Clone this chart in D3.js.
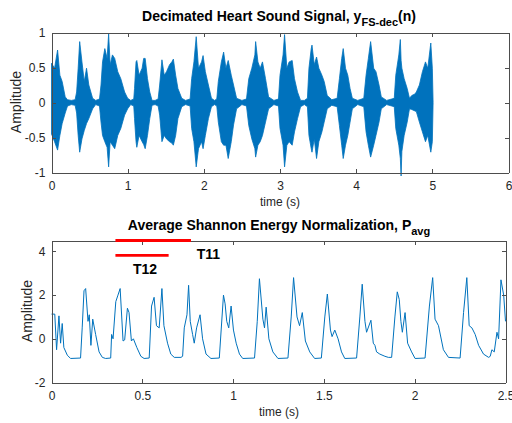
<!DOCTYPE html>
<html>
<head>
<meta charset="utf-8">
<title>Heart Sound</title>
<style>
  body { margin: 0; background: #fff; }
  svg { display: block; font-family: "Liberation Sans", Arial, sans-serif; }
  .tick text { font-size: 12px; fill: #262626; }
  .lbl { font-size: 14px; fill: #262626; }
  .ttl { font-size: 14px; font-weight: bold; fill: #000; }
  .mark { font-size: 14px; font-weight: bold; fill: #000; }
</style>
</head>
<body>
<svg width="512" height="423"></svg>
<script src="https://d3js.org/d3.v7.min.js"></script>
<script>
// top panel: envelope of the decimated heart sound (upper / lower amplitude)
var sigT  = [0.00,0.04,0.08,0.11,0.14,0.18,0.21,0.26,0.31,
             0.33,0.35,0.37,0.40,0.43,0.46,0.49,0.54,0.58,
             0.63,0.65,0.67,0.70,0.73,0.75,0.77,0.80,0.83,0.87,0.91,0.96,1.00,1.04,
             1.08,1.09,1.11,1.12,1.15,1.19,1.21,1.23,1.26,1.29,1.32,1.36,
             1.40,1.42,1.45,1.48,1.51,1.55,1.58,1.60,1.63,1.66,1.71,1.76,
             1.82,1.84,1.87,1.90,1.93,1.97,1.99,2.02,2.06,2.10,2.14,
             2.17,2.19,2.23,2.26,2.29,2.32,2.36,2.39,2.43,2.50,
             2.56,2.59,2.63,2.67,2.68,2.71,2.74,2.77,2.81,2.85,2.92,
             2.98,3.00,3.04,3.06,3.09,3.12,3.16,3.19,3.23,3.27,3.32,
             3.36,3.38,3.41,3.42,3.45,3.48,3.51,3.55,3.58,3.62,3.68,
             3.75,3.78,3.81,3.83,3.86,3.89,3.92,3.95,4.02,
             4.10,4.13,4.16,4.19,4.23,4.26,4.30,4.33,4.40,
             4.50,4.52,4.56,4.58,4.59,4.60,4.63,4.67,4.70,4.73,
             4.77,4.79,4.83,4.87,4.91,4.94,4.98,5.00,5.01];
var sigHi = [0.56,0.49,0.75,0.39,0.30,0.08,0.04,0.03,0.04,
             0.15,0.49,0.87,0.58,0.30,0.49,0.25,0.06,0.03,
             0.05,0.25,0.58,0.77,0.63,0.98,0.54,0.68,0.63,0.44,0.34,0.15,0.06,0.03,
             0.05,0.20,0.58,0.60,0.39,0.49,0.63,0.63,0.34,0.15,0.03,0.03,
             0.05,0.25,0.61,0.39,0.44,0.54,0.58,0.62,0.39,0.20,0.06,0.03,
             0.05,0.34,0.58,0.94,0.49,0.58,0.67,0.44,0.25,0.06,0.03,
             0.05,0.30,0.58,0.72,0.49,0.60,0.39,0.25,0.06,0.03,
             0.05,0.34,0.49,0.68,0.87,0.58,0.49,0.58,0.34,0.08,0.03,
             0.05,0.39,0.68,0.97,0.49,0.58,0.60,0.34,0.15,0.03,0.03,
             0.06,0.49,0.77,0.82,0.54,0.65,0.49,0.39,0.30,0.10,0.04,
             0.06,0.34,0.63,0.77,0.49,0.39,0.20,0.06,0.03,
             0.06,0.39,0.63,0.87,0.49,0.44,0.25,0.08,0.03,
             0.06,0.39,0.68,0.90,0.60,0.49,0.34,0.20,0.06,0.10,
             0.12,0.15,0.25,0.44,0.58,0.49,0.85,0.49,0.00];
var sigLo = [-0.45,-0.56,-0.68,-0.47,-0.30,-0.15,-0.05,-0.03,-0.04,
             -0.15,-0.47,-0.71,-0.52,-0.40,-0.30,-0.23,-0.09,-0.03,
             -0.05,-0.28,-0.47,-0.56,-0.64,-0.92,-0.56,-0.61,-0.66,-0.47,-0.37,-0.18,-0.09,-0.03,
             -0.05,-0.23,-0.56,-0.64,-0.47,-0.56,-0.60,-0.66,-0.47,-0.23,-0.04,-0.03,
             -0.05,-0.18,-0.56,-0.47,-0.52,-0.56,-0.58,-0.61,-0.47,-0.23,-0.06,-0.03,
             -0.05,-0.37,-0.56,-0.92,-0.66,-0.56,-0.66,-0.47,-0.23,-0.06,-0.03,
             -0.05,-0.28,-0.56,-0.61,-0.61,-0.80,-0.56,-0.32,-0.09,-0.03,
             -0.05,-0.33,-0.52,-0.66,-0.78,-0.61,-0.56,-0.47,-0.28,-0.09,-0.03,
             -0.05,-0.37,-0.61,-0.92,-0.61,-0.56,-0.61,-0.42,-0.23,-0.06,-0.03,
             -0.06,-0.47,-0.66,-0.71,-0.52,-0.80,-0.56,-0.42,-0.28,-0.09,-0.04,
             -0.06,-0.33,-0.61,-0.80,-0.61,-0.47,-0.28,-0.09,-0.03,
             -0.06,-0.42,-0.61,-0.78,-0.61,-0.47,-0.28,-0.09,-0.03,
             -0.06,-0.37,-0.61,-0.80,-1.05,-0.70,-0.47,-0.28,-0.09,-0.10,
             -0.12,-0.13,-0.28,-0.42,-0.56,-0.47,-0.71,-0.56,0.00];

// bottom panel: average Shannon energy
var envT = [0.000,0.018,0.028,0.041,0.050,0.059,0.068,0.087,0.105,0.160,
            0.169,0.179,0.188,0.201,0.208,0.217,0.227,0.243,0.262,0.280,0.298,0.326,
            0.331,0.339,0.354,0.366,0.378,0.394,0.403,0.418,0.427,0.440,0.451,0.470,0.492,0.510,0.538,
            0.551,0.565,0.578,0.593,0.608,0.619,0.639,0.657,0.676,0.713,
            0.722,0.731,0.746,0.755,0.764,0.777,0.786,0.799,0.818,0.832,0.851,0.878,0.924,
            0.947,0.956,0.965,0.976,0.989,1.002,1.017,1.035,1.053,1.118,
            1.133,1.145,1.164,1.173,1.182,1.197,1.219,1.247,1.302,
            1.320,1.333,1.352,1.366,1.381,1.398,1.422,1.449,1.486,
            1.505,1.519,1.536,1.545,1.560,1.578,1.597,1.615,1.680,
            1.698,1.711,1.726,1.735,1.759,1.772,1.781,1.790,1.808,1.836,1.855,1.873,
            1.891,1.904,1.915,1.924,1.932,1.947,1.961,1.983,2.002,2.057,
            2.081,2.099,2.112,2.131,2.158,2.186,2.250,
            2.269,2.287,2.300,2.315,2.333,2.352,2.379,2.407,2.416,2.425,2.438,
            2.453,2.462,2.475,2.490,2.500];
var envY = [1.13,1.13,-0.50,1.05,-0.20,0.70,-0.40,-0.75,-0.90,-0.88,
            0.50,2.20,2.30,0.80,1.10,-0.30,0.90,0.20,-0.60,-0.85,-0.90,-0.88,
            0.20,0.00,1.70,2.00,2.30,-0.10,-0.05,1.40,1.20,-0.10,0.00,-0.40,-0.80,-0.90,-0.88,
            1.50,1.90,0.60,0.50,2.30,0.60,-0.20,-0.70,-0.85,-0.85,
            -0.80,0.50,1.10,2.45,0.80,0.20,-0.20,0.50,1.10,0.00,-0.70,-0.90,-0.88,
            2.00,1.60,0.80,0.50,1.50,0.40,-0.20,-0.70,-0.90,-0.88,
            0.80,2.75,0.90,0.50,1.45,0.00,-0.60,-0.90,-0.88,
            1.00,2.80,1.00,0.60,1.20,-0.10,-0.60,-0.90,-0.88,
            1.00,2.05,0.40,0.10,0.40,0.00,-0.60,-0.90,-0.88,
            1.00,2.50,0.80,0.30,0.85,-0.20,-0.30,-0.60,-0.70,-0.80,-0.85,-0.85,
            1.00,2.15,1.80,0.80,0.30,1.20,-0.20,-0.60,-0.90,-0.88,
            1.50,2.80,0.90,0.60,-0.50,-0.85,-0.88,
            1.20,2.80,0.60,0.50,0.20,-0.30,-0.70,-0.85,-0.80,-0.50,-0.60,
            0.30,0.00,2.70,2.00,0.80];

// marker bars (time span, level) and their labels
var barNames = ["T11", "T12"];
var barStart = [0.352, 0.352];
var barEnd   = [0.768, 0.645];
var barLevel = [4.5, 3.82];
var barLabelT = [0.80, 0.449];
var barLabelY = [3.90, 3.17];

var topXTicks = [0, 1, 2, 3, 4, 5, 6];
var topYTicks = [-1, -0.5, 0, 0.5, 1];
var botXTicks = [0, 0.5, 1, 1.5, 2, 2.5];
var botYTicks = [-2, 0, 2, 4];

var blue = "#0072BD", axisCol = "#4d4d4d";
var svg = d3.select("svg");

function box(g, x, y, xt, yt) {
  var x0 = x.range()[0], x1 = x.range()[1], y0 = y.range()[0], y1 = y.range()[1];
  var fmt = function(d) { return String(d); };
  g.append("g").attr("class", "ax").attr("transform", "translate(0," + y0 + ")")
    .call(d3.axisBottom(x).tickValues(xt).tickFormat(fmt).tickSizeInner(-4).tickSizeOuter(0).tickPadding(9));
  g.append("g").attr("class", "ax").attr("transform", "translate(0," + y1 + ")")
    .call(d3.axisTop(x).tickValues(xt).tickFormat("").tickSizeInner(-4).tickSizeOuter(0));
  g.append("g").attr("class", "ax").attr("transform", "translate(" + x0 + ",0)")
    .call(d3.axisLeft(y).tickValues(yt).tickFormat(fmt).tickSizeInner(-4).tickSizeOuter(0).tickPadding(6));
  g.append("g").attr("class", "ax").attr("transform", "translate(" + x1 + ",0)")
    .call(d3.axisRight(y).tickValues(yt).tickFormat("").tickSizeInner(-4).tickSizeOuter(0));
  g.selectAll(".ax path, .ax line").attr("stroke", axisCol).attr("stroke-width", 1).attr("shape-rendering", "crispEdges");
  g.selectAll(".ax .tick text").style("font-family", "'Liberation Sans', Arial, sans-serif");
}

// ---- top panel ----
var x1 = d3.scaleLinear().domain([0, 6]).range([51.5, 508.5]);
var y1 = d3.scaleLinear().domain([-1, 1]).range([172.5, 32.5]);
var gTop = svg.append("g");

var sig = sigT.map(function(t, i) { return {t: t, hi: sigHi[i], lo: sigLo[i]}; });
gTop.append("path")
  .datum(sig)
  .attr("fill", blue)
  .attr("stroke", blue)
  .attr("stroke-width", 0.8)
  .attr("d", d3.area().x(function(d) { return x1(d.t); })
    .y0(function(d) { return y1(d.lo); }).y1(function(d) { return y1(d.hi); }));
box(gTop, x1, y1, topXTicks, topYTicks);

var t1 = gTop.append("text").attr("class", "ttl").attr("x", 279).attr("y", 21).attr("text-anchor", "middle");
t1.append("tspan").text("Decimated Heart Sound Signal, y");
t1.append("tspan").attr("dy", 5).style("font-size", "11px").text("FS-dec");
t1.append("tspan").attr("dy", -5).text("(n)");
gTop.append("text").attr("class", "lbl").attr("x", 280).attr("y", 206).attr("text-anchor", "middle")
  .style("font-size", "12px").text("time (s)");
gTop.append("text").attr("class", "lbl").attr("transform", "translate(21,102) rotate(-90)")
  .attr("text-anchor", "middle").text("Amplitude");

// ---- bottom panel ----
var x2 = d3.scaleLinear().domain([0, 2.5]).range([51.5, 505.5]);
var y2 = d3.scaleLinear().domain([-2, 4.5]).range([382.5, 240.5]);
var gBot = svg.append("g");

gBot.append("path")
  .datum(envT.map(function(t, i) { return [t, envY[i]]; }))
  .attr("fill", "none")
  .attr("stroke", blue)
  .attr("stroke-width", 1)
  .attr("d", d3.line().x(function(d) { return x2(d[0]); }).y(function(d) { return y2(d[1]); }));
box(gBot, x2, y2, botXTicks, botYTicks);

gBot.selectAll(".bar").data(barNames).enter().append("line")
  .attr("x1", function(d, i) { return x2(barStart[i]); })
  .attr("x2", function(d, i) { return x2(barEnd[i]); })
  .attr("y1", function(d, i) { return y2(barLevel[i]); })
  .attr("y2", function(d, i) { return y2(barLevel[i]); })
  .attr("stroke", "#ff0000").attr("stroke-width", 2.8);
gBot.selectAll(".mark").data(barNames).enter().append("text")
  .attr("class", "mark")
  .attr("x", function(d, i) { return x2(barLabelT[i]); })
  .attr("y", function(d, i) { return y2(barLabelY[i]); })
  .attr("dy", "0.35em")
  .text(function(d) { return d; });

var t2 = gBot.append("text").attr("class", "ttl").attr("x", 279).attr("y", 230).attr("text-anchor", "middle");
t2.append("tspan").text("Average Shannon Energy Normalization, P");
t2.append("tspan").attr("dy", 5).style("font-size", "11px").text("avg");
gBot.append("text").attr("class", "lbl").attr("x", 279).attr("y", 416).attr("text-anchor", "middle")
  .style("font-size", "12px").text("time (s)");
gBot.append("text").attr("class", "lbl").attr("transform", "translate(32,311) rotate(-90)")
  .attr("text-anchor", "middle").text("Amplitude");
</script>
</body>
</html>
